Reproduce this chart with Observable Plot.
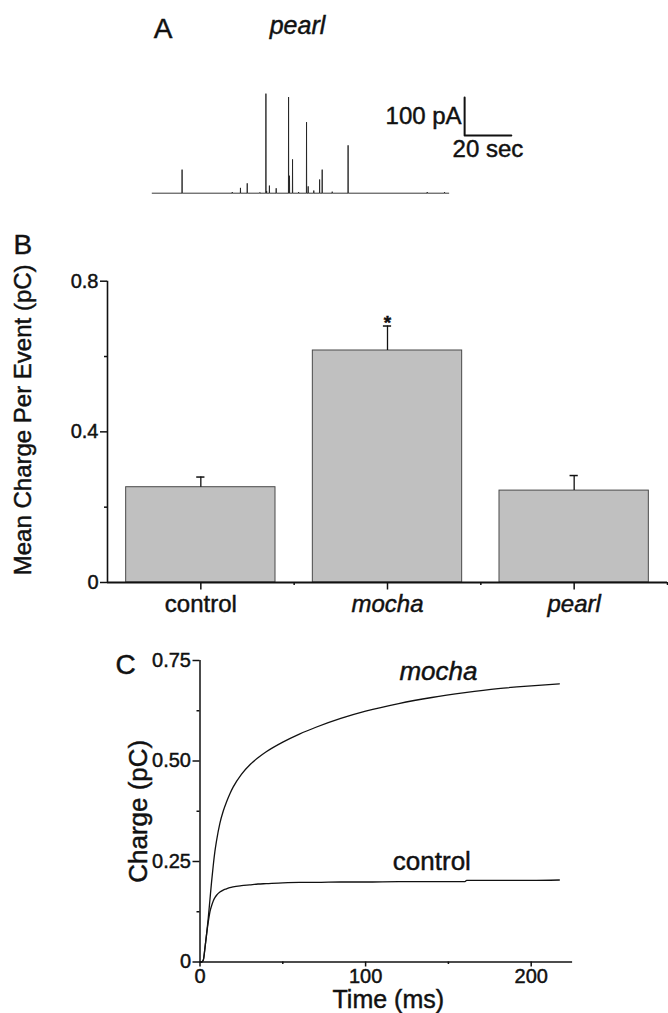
<!DOCTYPE html>
<html>
<head>
<meta charset="utf-8">
<script src="https://cdn.jsdelivr.net/npm/d3@7"></script>
<script src="https://cdn.jsdelivr.net/npm/@observablehq/plot@0.6"></script>
<style>
  html, body { margin: 0; padding: 0; background: #fff; }
  #fig { position: relative; width: 668px; height: 1013px; overflow: hidden; background: #fff; }
  .panel { position: absolute; left: 0; }
  #fig svg text { stroke: #111; stroke-width: 0.45px; paint-order: stroke; }
</style>
</head>
<body>
<div id="fig">
  <div class="panel" id="panelA" style="top:0px"></div>
  <div class="panel" id="panelB" style="top:220px"></div>
  <div class="panel" id="panelC" style="top:620px"></div>
</div>
<script>
// ---------------- Panel A: amperometric trace (pearl) ----------------
const traceEnd = 127;                     // s
const spikeTimes = [12.8, 34.3, 37.8, 40.7, 46.1, 48.7, 49.0, 50.2, 53.1, 58.4, 58.8, 60.1, 62.7, 66.1, 66.8, 69.2, 71.7, 72.8, 77.1, 83.9, 117.8, 125.2];
const spikeAmps  = [62,   3,    14,   26,   2,    262,  6,    20,   13,   253,  46,   89,   3,    187,  18,   7,    36,   62,   4,    126,  3,     3];
const scaleBarTime = 20;                  // s
const scaleBarCurrent = 100;              // pA
const scaleBarOrigin = [133.8, 151.8];    // s, pA (corner of the L-shaped bar)

// ---------------- Panel B: mean charge per event ----------------
const genotypes   = ["control", "mocha", "pearl"];
const meanCharge  = [0.253, 0.616, 0.244];
const semCharge   = [0.027, 0.065, 0.040];
const significant = [false, true, false];
const italicName  = [false, true, true];
const bMajorTicks = [0, 0.4, 0.8];
const bMinorTicks = [0.2, 0.6];

// ---------------- Panel C: cumulative charge ----------------
const mochaTime     = [0, 1, 2, 3, 4, 5, 6, 7, 8, 9, 10, 12, 14, 16, 18, 20, 25, 30, 35, 40, 50, 60, 70, 85, 100, 120, 140, 160, 180, 200, 217];
const mochaCharge   = [0, 0, 0.005, 0.035, 0.07, 0.11, 0.155, 0.2, 0.24, 0.275, 0.302, 0.345, 0.375, 0.398, 0.418, 0.435, 0.467, 0.49, 0.508, 0.523, 0.547, 0.567, 0.584, 0.606, 0.624, 0.643, 0.658, 0.67, 0.68, 0.687, 0.692];
const controlTime   = [0, 1, 2, 3, 4, 5, 6, 7, 8, 9, 10, 12, 14, 16, 18, 20, 25, 30, 35, 40, 50, 60, 70, 85, 100, 120, 140, 160, 161, 180, 200, 217];
const controlCharge = [0, 0, 0.005, 0.035, 0.07, 0.1, 0.125, 0.14, 0.152, 0.16, 0.166, 0.174, 0.179, 0.182, 0.185, 0.187, 0.19, 0.192, 0.194, 0.195, 0.197, 0.198, 0.198, 0.199, 0.199, 0.2, 0.2, 0.2, 0.203, 0.203, 0.203, 0.204];
const cXMajor = [0, 100, 200];
const cXMinor = [50, 150];
const cYMajor = [0, 0.25, 0.5, 0.75];
const cYMinor = [0.125, 0.375, 0.625];
const curveLabels = [
  {name: "mocha",   t: 144, q: 0.702, italic: true},
  {name: "control", t: 140, q: 0.228, italic: false}
];

const FONT = '"Liberation Sans", Arial, Helvetica, sans-serif';
const INK = "#111";
const baseStyle = {fontFamily: FONT, fontSize: "20px", color: INK, background: "transparent", overflow: "visible"};

// ---------- build A ----------
const trace = [{t: 0, i: 0}];
spikeTimes.forEach((t, k) => {
  trace.push({t: t - 0.06, i: 0}, {t, i: spikeAmps[k]}, {t: t + 0.06, i: 0});
});
trace.push({t: traceEnd, i: 0});
trace.sort((a, b) => a.t - b.t);

const [sbx, sby] = scaleBarOrigin;
const scaleBar = [
  {t: sbx + scaleBarTime, i: sby},
  {t: sbx, i: sby},
  {t: sbx, i: sby + scaleBarCurrent}
];

const aLeft = 151.7, aPxPerSec = 2.335, aXMax = 160;
const plotA = Plot.plot({
  width: 668, height: 215,
  marginLeft: aLeft, marginRight: 668 - aLeft - aXMax * aPxPerSec,
  marginTop: 78.7, marginBottom: 22.3,
  x: {domain: [0, aXMax], axis: null},
  y: {domain: [0, 300], axis: null},
  style: baseStyle,
  marks: [
    Plot.line(trace, {x: "t", y: "i", stroke: "#222", strokeWidth: 0.9}),
    Plot.line(scaleBar, {x: "t", y: "i", stroke: INK, strokeWidth: 2}),
    Plot.text([`${scaleBarCurrent} pA`], {x: sbx, y: sby + scaleBarCurrent / 2, textAnchor: "end", lineAnchor: "middle", dx: -3, fontSize: 24, fill: INK}),
    Plot.text([`${scaleBarTime} sec`], {x: sbx + scaleBarTime / 2, y: sby, textAnchor: "middle", lineAnchor: "bottom", dy: 21.7, fontSize: 24, fill: INK}),
    Plot.text(["A"], {frameAnchor: "top-left", textAnchor: "start", lineAnchor: "bottom", dx: 1.6, dy: -41.4, fontSize: 28, fill: INK}),
    Plot.text(["pearl"], {frameAnchor: "top-left", textAnchor: "middle", lineAnchor: "bottom", dx: 145.3, dy: -44.7, fontSize: 25, fontStyle: "italic", fill: INK})
  ]
});
document.getElementById("panelA").appendChild(plotA);

// ---------- build B ----------
const rowsB = genotypes.map((g, k) => ({
  g, i: k + 1, mean: meanCharge[k], top: meanCharge[k] + semCharge[k],
  sig: significant[k], italic: italicName[k]
}));
const barHalf = 0.4, capHalf = 0.022;
const plotB = Plot.plot({
  width: 668, height: 400,
  marginLeft: 107, marginRight: 1, marginTop: 60.7, marginBottom: 38,
  x: {domain: [0.5, 3.5]},
  y: {domain: [0, 0.8]},
  style: baseStyle,
  marks: [
    Plot.rectY(rowsB, {x1: d => d.i - barHalf, x2: d => d.i + barHalf, y1: 0, y2: "mean", fill: "#c0c0c0", stroke: "#4a4a4a", strokeWidth: 1}),
    Plot.ruleX(rowsB, {x: "i", y1: "mean", y2: "top", stroke: INK, strokeWidth: 1.3}),
    Plot.ruleY(rowsB, {y: "top", x1: d => d.i - capHalf, x2: d => d.i + capHalf, stroke: INK, strokeWidth: 1.5}),
    Plot.text(rowsB.filter(d => d.sig), {x: "i", y: "top", text: () => "*", lineAnchor: "bottom", dy: 3, fontSize: 19, fontWeight: "bold", fill: INK}),
    Plot.ruleY([0], {stroke: INK, strokeWidth: 2}),
    Plot.ruleX([0.5], {y1: 0, y2: 0.8, stroke: INK, strokeWidth: 1.6}),
    Plot.axisY({ticks: bMajorTicks, tickSize: 7, tickPadding: 2, fontSize: 20, tickFormat: d => d === 0 ? "0" : d.toFixed(1), label: null, strokeWidth: 1.5}),
    Plot.axisY({ticks: bMinorTicks, tickSize: 3, tickFormat: () => "", label: null, strokeWidth: 1.5}),
    Plot.axisX({ticks: rowsB.map(d => d.i), tickSize: 7.5, tickFormat: () => "", label: null, strokeWidth: 1.5}),
    Plot.axisX({ticks: rowsB.map(d => d.i + 0.5), tickSize: 3, tickFormat: () => "", label: null, strokeWidth: 1.5}),
    Plot.text(rowsB.filter(d => !d.italic), {x: "i", y: 0, text: "g", lineAnchor: "bottom", dy: 29.7, fontSize: 24, fill: INK}),
    Plot.text(rowsB.filter(d => d.italic), {x: "i", y: 0, text: "g", lineAnchor: "bottom", dy: 29.7, fontSize: 24, fontStyle: "italic", fill: INK}),
    Plot.text(["Mean Charge Per Event (pC)"], {frameAnchor: "left", rotate: -90, dx: -84, dy: -12, fontSize: 24, textAnchor: "middle", lineAnchor: "middle", fill: INK}),
    Plot.text(["B"], {frameAnchor: "top-left", textAnchor: "start", lineAnchor: "bottom", dx: 13 - 107, dy: 253 - 280.7, fontSize: 28, fill: INK})
  ]
});
document.getElementById("panelB").appendChild(plotB);

// ---------- build C ----------
const curveData = [
  ...mochaTime.map((t, k) => ({genotype: "mocha", t, q: mochaCharge[k]})),
  ...controlTime.map((t, k) => ({genotype: "control", t, q: controlCharge[k]}))
];
const cLeft = 199.5, cPxPerMs = 1.656, cXMax = 225;
const plotC = Plot.plot({
  width: 668, height: 393,
  marginLeft: cLeft, marginRight: 668 - cLeft - cXMax * cPxPerMs,
  marginTop: 40, marginBottom: 51.5,
  x: {domain: [0, cXMax]},
  y: {domain: [0, 0.75]},
  style: baseStyle,
  marks: [
    Plot.ruleY([0], {stroke: INK, strokeWidth: 1.5}),
    Plot.ruleX([0], {y1: 0, y2: 0.75, stroke: INK, strokeWidth: 1.5}),
    Plot.axisX({ticks: cXMajor, tickSize: 5, tickPadding: 2, fontSize: 20, tickFormat: d => String(d), label: null, strokeWidth: 1.5}),
    Plot.axisX({ticks: cXMinor, tickSize: 2.5, tickFormat: () => "", label: null, strokeWidth: 1.5}),
    Plot.axisY({ticks: cYMajor, tickSize: 7, tickPadding: 2, fontSize: 20, tickFormat: d => d === 0 ? "0" : d.toFixed(2), label: null, strokeWidth: 1.5}),
    Plot.axisY({ticks: cYMinor, tickSize: 3, tickFormat: () => "", label: null, strokeWidth: 1.5}),
    Plot.line(curveData, {x: "t", y: "q", z: "genotype", curve: "monotone-x", stroke: INK, strokeWidth: 1.3}),
    Plot.text(curveLabels.filter(d => d.italic), {x: "t", y: "q", text: "name", lineAnchor: "bottom", fontSize: 26, fontStyle: "italic", fill: INK}),
    Plot.text(curveLabels.filter(d => !d.italic), {x: "t", y: "q", text: "name", lineAnchor: "bottom", fontSize: 26, fill: INK}),
    Plot.text(["Charge (pC)"], {frameAnchor: "left", rotate: -90, dx: -61.5, fontSize: 26, textAnchor: "middle", lineAnchor: "middle", fill: INK}),
    Plot.text(["Time (ms)"], {frameAnchor: "bottom", dx: 2, dy: 37.5, fontSize: 25, textAnchor: "middle", lineAnchor: "middle", fill: INK}),
    Plot.text(["C"], {frameAnchor: "top-left", textAnchor: "start", lineAnchor: "bottom", dx: 115 - cLeft, dy: 673 - 660, fontSize: 28, fill: INK})
  ]
});
document.getElementById("panelC").appendChild(plotC);
</script>
</body>
</html>
